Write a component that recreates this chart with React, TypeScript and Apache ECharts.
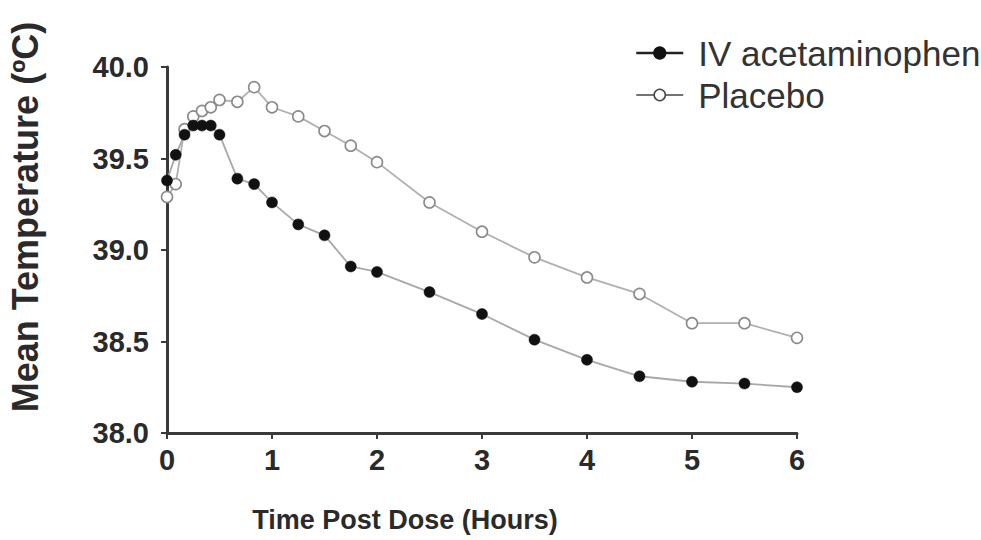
import React, { useEffect, useRef } from "react";
import * as echarts from "echarts";

const hours = [0, 0.083, 0.167, 0.25, 0.333, 0.417, 0.5, 0.67, 0.83, 1, 1.25, 1.5, 1.75, 2, 2.5, 3, 3.5, 4, 4.5, 5, 5.5, 6];
const acetaminophen = [39.38, 39.52, 39.63, 39.68, 39.68, 39.68, 39.63, 39.39, 39.36, 39.26, 39.14, 39.08, 38.91, 38.88, 38.77, 38.65, 38.51, 38.4, 38.31, 38.28, 38.27, 38.25];
const placebo = [39.29, 39.36, 39.66, 39.73, 39.76, 39.78, 39.82, 39.81, 39.89, 39.78, 39.73, 39.65, 39.57, 39.48, 39.26, 39.1, 38.96, 38.85, 38.76, 38.6, 38.6, 38.52];
const seriesNames = ["IV acetaminophen", "Placebo"];
const xTitle = "Time Post Dose (Hours)";
const yTitle = "Mean Temperature (ºC)";

const FONT = "'Liberation Sans', Arial, sans-serif";

export default function App() {
  const ref = useRef<HTMLDivElement>(null);
  useEffect(() => {
    if (!ref.current) return;
    const chart = echarts.init(ref.current, undefined, { renderer: "svg" });
    const pair = (ys: number[]) => hours.map((h, i) => [h, ys[i]]);
    chart.setOption({
      animation: false,
      backgroundColor: "#ffffff",
      textStyle: { fontFamily: FONT },
      grid: { left: 167, right: 184, top: 67, bottom: 107, containLabel: false },
      legend: {
        orient: "vertical",
        left: 630,
        top: 29,
        itemWidth: 47,
        itemHeight: 14,
        itemGap: 4,
        textStyle: { fontFamily: FONT, fontSize: 35, color: "#333", padding: [0, 0, 0, 10], lineHeight: 38 },
        data: [
          {
            name: seriesNames[0],
            itemStyle: { color: "#111", borderColor: "#111" },
            lineStyle: { color: "#222", width: 2.5 },
          },
          {
            name: seriesNames[1],
            itemStyle: { color: "#fff", borderColor: "#444", borderWidth: 1.5 },
            lineStyle: { color: "#444", width: 1.5 },
          },
        ],
      },
      xAxis: {
        type: "value",
        min: 0,
        max: 6,
        interval: 1,
        splitLine: { show: false },
        axisLine: { show: true, onZero: false, lineStyle: { color: "#3a3a3a", width: 3 } },
        axisTick: { show: true, length: 6, lineStyle: { color: "#3a3a3a", width: 2 } },
        axisLabel: { fontFamily: FONT, fontSize: 29, fontWeight: "bold", color: "#2a2a2a", margin: 12 },
      },
      yAxis: {
        type: "value",
        min: 38,
        max: 40,
        interval: 0.5,
        splitLine: { show: false },
        axisLine: { show: true, onZero: false, lineStyle: { color: "#3a3a3a", width: 3 } },
        axisTick: { show: true, length: 6, lineStyle: { color: "#3a3a3a", width: 2 } },
        axisLabel: {
          fontFamily: FONT,
          fontSize: 29,
          fontWeight: "bold",
          color: "#2a2a2a",
          margin: 18,
          formatter: (v: number) => v.toFixed(1),
        },
      },
      graphic: [
        {
          type: "text",
          x: 25,
          y: 217,
          rotation: Math.PI / 2,
          style: {
            text: yTitle,
            font: `bold 36px ${FONT}`,
            fill: "#2a2a2a",
            textAlign: "center",
            textVerticalAlign: "middle",
          },
        },
        {
          type: "text",
          x: 405,
          y: 520,
          style: {
            text: xTitle,
            font: `bold 27px ${FONT}`,
            fill: "#2a2a2a",
            textAlign: "center",
            textVerticalAlign: "middle",
          },
        },
      ],
      series: [
        {
          name: seriesNames[1],
          type: "line",
          data: pair(placebo),
          symbol: "circle",
          symbolSize: 11,
          z: 2,
          lineStyle: { color: "#b0b0b0", width: 1.8 },
          itemStyle: { color: "#ffffff", borderColor: "#8a8a8a", borderWidth: 1.6 },
        },
        {
          name: seriesNames[0],
          type: "line",
          data: pair(acetaminophen),
          symbol: "circle",
          symbolSize: 11,
          z: 3,
          lineStyle: { color: "#a8a8a8", width: 1.8 },
          itemStyle: { color: "#111111", borderColor: "#111111", borderWidth: 0.5 },
        },
      ],
    });
    return () => chart.dispose();
  }, []);
  return (
    <div
      ref={ref}
      style={{ position: "fixed", left: 0, top: 0, width: 981, height: 540, background: "#fff" }}
    />
  );
}
